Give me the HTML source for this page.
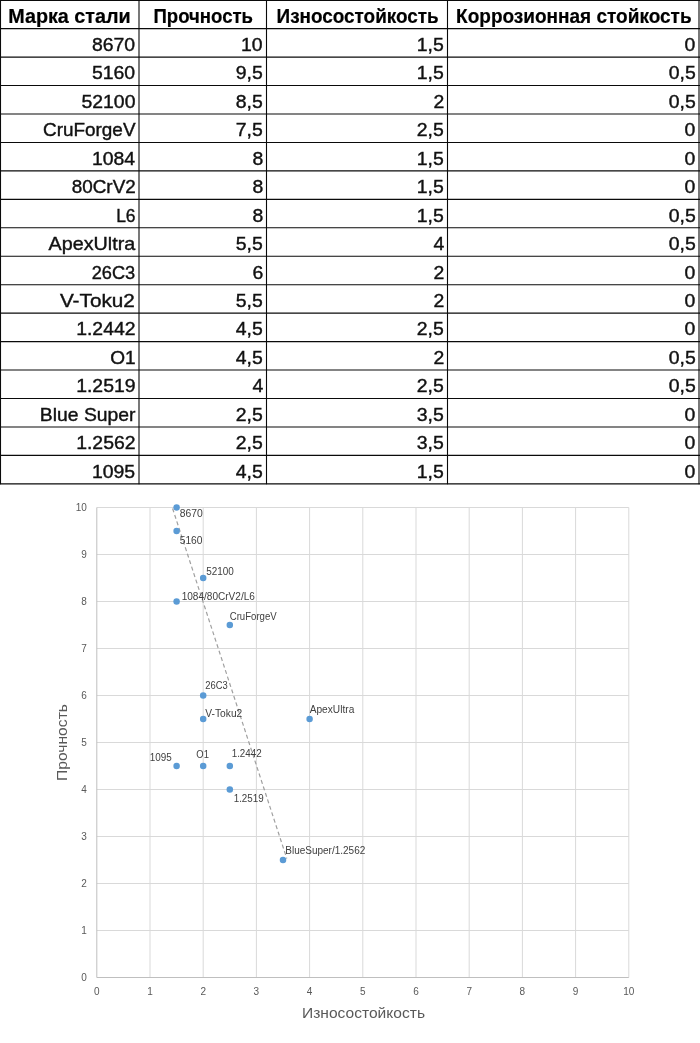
<!DOCTYPE html>
<html lang="ru">
<head>
<meta charset="utf-8">
<title>Марки стали: прочность и износостойкость</title>
<style>
html,body{margin:0;padding:0;background:#fff}
body{position:relative;width:700px;height:1043px;overflow:hidden;font-family:"Liberation Sans",sans-serif;color:#111}
table.steel{position:absolute;left:0;top:0;width:700px;border-collapse:collapse;table-layout:fixed;border-spacing:0}
table.steel th,table.steel td{line-height:28px;padding:0;margin:0;border:0;white-space:nowrap;overflow:visible;vertical-align:top}
table.steel th{font-weight:bold;font-size:19.5px;text-align:center;color:#000;-webkit-text-stroke:0.2px #000}
table.steel td{font-size:18.5px;text-align:right;-webkit-text-stroke:0.4px #111}
table.steel span{display:inline-block;position:relative}
table.steel th span{transform-origin:50% 50%}
table.steel td span{transform-origin:100% 50%}
td.c1{padding-right:3.7px!important}
td.c2{padding-right:4px!important}
td.c3{padding-right:4px!important}
td.c4{padding-right:4.5px!important}
svg{position:absolute;left:0;top:0;overflow:visible}
svg text{font-family:"Liberation Sans",sans-serif}
</style>
</head>
<body>
<table class="steel">
<colgroup><col style="width:139px"><col style="width:128px"><col style="width:181px"><col style="width:252px"></colgroup>
<thead>
<tr style="height:28px"><th><span style="transform:translateY(2.1px) scaleX(1.0133)">Марка стали</span></th><th><span style="transform:translateY(2.1px) scaleX(0.9529)">Прочность</span></th><th><span style="transform:translateY(2.1px) scaleX(0.9695)">Износостойкость</span></th><th><span style="transform:translateY(2.1px) scaleX(0.9744)">Коррозионная стойкость</span></th></tr>
</thead>
<tbody>
<tr style="height:29px"><td class="c1"><span style="transform:translateY(2.90px) scaleX(1.0500)">8670</span></td><td class="c2"><span style="transform:translateY(2.90px) scaleX(1.0500)">10</span></td><td class="c3"><span style="transform:translateY(2.90px) scaleX(1.0500)">1,5</span></td><td class="c4"><span style="transform:translateY(2.90px) scaleX(1.0500)">0</span></td></tr>
<tr style="height:28px"><td class="c1"><span style="transform:translateY(2.35px) scaleX(1.0500)">5160</span></td><td class="c2"><span style="transform:translateY(2.35px) scaleX(1.0500)">9,5</span></td><td class="c3"><span style="transform:translateY(2.35px) scaleX(1.0500)">1,5</span></td><td class="c4"><span style="transform:translateY(2.35px) scaleX(1.0500)">0,5</span></td></tr>
<tr style="height:29px"><td class="c1"><span style="transform:translateY(2.80px) scaleX(1.0500)">52100</span></td><td class="c2"><span style="transform:translateY(2.80px) scaleX(1.0500)">8,5</span></td><td class="c3"><span style="transform:translateY(2.80px) scaleX(1.0500)">2</span></td><td class="c4"><span style="transform:translateY(2.80px) scaleX(1.0500)">0,5</span></td></tr>
<tr style="height:28px"><td class="c1"><span style="transform:translateY(2.25px) scaleX(1.0211)">CruForgeV</span></td><td class="c2"><span style="transform:translateY(2.25px) scaleX(1.0500)">7,5</span></td><td class="c3"><span style="transform:translateY(2.25px) scaleX(1.0500)">2,5</span></td><td class="c4"><span style="transform:translateY(2.25px) scaleX(1.0500)">0</span></td></tr>
<tr style="height:29px"><td class="c1"><span style="transform:translateY(2.70px) scaleX(1.0500)">1084</span></td><td class="c2"><span style="transform:translateY(2.70px) scaleX(1.0500)">8</span></td><td class="c3"><span style="transform:translateY(2.70px) scaleX(1.0500)">1,5</span></td><td class="c4"><span style="transform:translateY(2.70px) scaleX(1.0500)">0</span></td></tr>
<tr style="height:28px"><td class="c1"><span style="transform:translateY(2.15px) scaleX(1.0203)">80CrV2</span></td><td class="c2"><span style="transform:translateY(2.15px) scaleX(1.0500)">8</span></td><td class="c3"><span style="transform:translateY(2.15px) scaleX(1.0500)">1,5</span></td><td class="c4"><span style="transform:translateY(2.15px) scaleX(1.0500)">0</span></td></tr>
<tr style="height:29px"><td class="c1"><span style="transform:translateY(2.60px) scaleX(0.9433)">L6</span></td><td class="c2"><span style="transform:translateY(2.60px) scaleX(1.0500)">8</span></td><td class="c3"><span style="transform:translateY(2.60px) scaleX(1.0500)">1,5</span></td><td class="c4"><span style="transform:translateY(2.60px) scaleX(1.0500)">0,5</span></td></tr>
<tr style="height:28px"><td class="c1"><span style="transform:translateY(2.05px) scaleX(1.0664)">ApexUltra</span></td><td class="c2"><span style="transform:translateY(2.05px) scaleX(1.0500)">5,5</span></td><td class="c3"><span style="transform:translateY(2.05px) scaleX(1.0500)">4</span></td><td class="c4"><span style="transform:translateY(2.05px) scaleX(1.0500)">0,5</span></td></tr>
<tr style="height:28px"><td class="c1"><span style="transform:translateY(2.50px) scaleX(0.9842)">26C3</span></td><td class="c2"><span style="transform:translateY(2.50px) scaleX(1.0500)">6</span></td><td class="c3"><span style="transform:translateY(2.50px) scaleX(1.0500)">2</span></td><td class="c4"><span style="transform:translateY(2.50px) scaleX(1.0500)">0</span></td></tr>
<tr style="height:29px"><td class="c1"><span style="transform:translateY(2.95px) scaleX(1.1209)">V-Toku2</span></td><td class="c2"><span style="transform:translateY(2.95px) scaleX(1.0500)">5,5</span></td><td class="c3"><span style="transform:translateY(2.95px) scaleX(1.0500)">2</span></td><td class="c4"><span style="transform:translateY(2.95px) scaleX(1.0500)">0</span></td></tr>
<tr style="height:28px"><td class="c1"><span style="transform:translateY(2.40px) scaleX(1.0500)">1.2442</span></td><td class="c2"><span style="transform:translateY(2.40px) scaleX(1.0500)">4,5</span></td><td class="c3"><span style="transform:translateY(2.40px) scaleX(1.0500)">2,5</span></td><td class="c4"><span style="transform:translateY(2.40px) scaleX(1.0500)">0</span></td></tr>
<tr style="height:29px"><td class="c1"><span style="transform:translateY(2.85px) scaleX(1.0300)">O1</span></td><td class="c2"><span style="transform:translateY(2.85px) scaleX(1.0500)">4,5</span></td><td class="c3"><span style="transform:translateY(2.85px) scaleX(1.0500)">2</span></td><td class="c4"><span style="transform:translateY(2.85px) scaleX(1.0500)">0,5</span></td></tr>
<tr style="height:28px"><td class="c1"><span style="transform:translateY(2.30px) scaleX(1.0500)">1.2519</span></td><td class="c2"><span style="transform:translateY(2.30px) scaleX(1.0500)">4</span></td><td class="c3"><span style="transform:translateY(2.30px) scaleX(1.0500)">2,5</span></td><td class="c4"><span style="transform:translateY(2.30px) scaleX(1.0500)">0,5</span></td></tr>
<tr style="height:29px"><td class="c1"><span style="transform:translateY(2.75px) scaleX(1.0453)">Blue Super</span></td><td class="c2"><span style="transform:translateY(2.75px) scaleX(1.0500)">2,5</span></td><td class="c3"><span style="transform:translateY(2.75px) scaleX(1.0500)">3,5</span></td><td class="c4"><span style="transform:translateY(2.75px) scaleX(1.0500)">0</span></td></tr>
<tr style="height:28px"><td class="c1"><span style="transform:translateY(2.20px) scaleX(1.0500)">1.2562</span></td><td class="c2"><span style="transform:translateY(2.20px) scaleX(1.0500)">2,5</span></td><td class="c3"><span style="transform:translateY(2.20px) scaleX(1.0500)">3,5</span></td><td class="c4"><span style="transform:translateY(2.20px) scaleX(1.0500)">0</span></td></tr>
<tr style="height:29px"><td class="c1"><span style="transform:translateY(2.65px) scaleX(1.0500)">1095</span></td><td class="c2"><span style="transform:translateY(2.65px) scaleX(1.0500)">4,5</span></td><td class="c3"><span style="transform:translateY(2.65px) scaleX(1.0500)">1,5</span></td><td class="c4"><span style="transform:translateY(2.65px) scaleX(1.0500)">0</span></td></tr>
</tbody>
</table>
<svg class="rules" width="700" height="490" viewBox="0 0 700 490" aria-hidden="true">
<g stroke="#0a0a0a" stroke-width="1.1" fill="none">
<line x1="0" y1="0.50" x2="700" y2="0.50"/><line x1="0" y1="28.65" x2="700" y2="28.65"/><line x1="0" y1="57.10" x2="700" y2="57.10"/><line x1="0" y1="85.55" x2="700" y2="85.55"/><line x1="0" y1="114.00" x2="700" y2="114.00"/><line x1="0" y1="142.45" x2="700" y2="142.45"/><line x1="0" y1="170.90" x2="700" y2="170.90"/><line x1="0" y1="199.35" x2="700" y2="199.35"/><line x1="0" y1="227.80" x2="700" y2="227.80"/><line x1="0" y1="256.25" x2="700" y2="256.25"/><line x1="0" y1="284.70" x2="700" y2="284.70"/><line x1="0" y1="313.15" x2="700" y2="313.15"/><line x1="0" y1="341.60" x2="700" y2="341.60"/><line x1="0" y1="370.05" x2="700" y2="370.05"/><line x1="0" y1="398.50" x2="700" y2="398.50"/><line x1="0" y1="426.95" x2="700" y2="426.95"/><line x1="0" y1="455.40" x2="700" y2="455.40"/><line x1="0" y1="483.85" x2="700" y2="483.85"/>
<line x1="0.5" y1="0" x2="0.5" y2="484.25"/><line x1="139.0" y1="0" x2="139.0" y2="484.25"/><line x1="266.5" y1="0" x2="266.5" y2="484.25"/><line x1="447.5" y1="0" x2="447.5" y2="484.25"/><line x1="699.0" y1="0" x2="699.0" y2="484.25"/>
</g>
</svg>
<svg class="chart" width="700" height="1043" viewBox="0 0 700 1043">
<g stroke="#d9d9d9" stroke-width="1" fill="none">
<line x1="150.00" y1="507.50" x2="150.00" y2="977.50"/><line x1="203.20" y1="507.50" x2="203.20" y2="977.50"/><line x1="256.40" y1="507.50" x2="256.40" y2="977.50"/><line x1="309.60" y1="507.50" x2="309.60" y2="977.50"/><line x1="362.80" y1="507.50" x2="362.80" y2="977.50"/><line x1="416.00" y1="507.50" x2="416.00" y2="977.50"/><line x1="469.20" y1="507.50" x2="469.20" y2="977.50"/><line x1="522.40" y1="507.50" x2="522.40" y2="977.50"/><line x1="575.60" y1="507.50" x2="575.60" y2="977.50"/><line x1="628.80" y1="507.50" x2="628.80" y2="977.50"/>
<line x1="96.80" y1="930.50" x2="628.80" y2="930.50"/><line x1="96.80" y1="883.50" x2="628.80" y2="883.50"/><line x1="96.80" y1="836.50" x2="628.80" y2="836.50"/><line x1="96.80" y1="789.50" x2="628.80" y2="789.50"/><line x1="96.80" y1="742.50" x2="628.80" y2="742.50"/><line x1="96.80" y1="695.50" x2="628.80" y2="695.50"/><line x1="96.80" y1="648.50" x2="628.80" y2="648.50"/><line x1="96.80" y1="601.50" x2="628.80" y2="601.50"/><line x1="96.80" y1="554.50" x2="628.80" y2="554.50"/><line x1="96.80" y1="507.50" x2="628.80" y2="507.50"/>
</g>
<g stroke="#bfbfbf" stroke-width="1" fill="none"><line x1="96.80" y1="507.50" x2="96.80" y2="977.50"/><line x1="96.80" y1="977.50" x2="628.80" y2="977.50"/></g>
<line x1="172.6" y1="508.5" x2="286.8" y2="858.5" stroke="#a0a0a0" stroke-width="1.2" stroke-dasharray="4 2.8" fill="none"/>
<g font-size="10.0" fill="#595959">
<text x="86.8" y="981.20" text-anchor="end">0</text><text x="86.8" y="934.20" text-anchor="end">1</text><text x="86.8" y="887.20" text-anchor="end">2</text><text x="86.8" y="840.20" text-anchor="end">3</text><text x="86.8" y="793.20" text-anchor="end">4</text><text x="86.8" y="746.20" text-anchor="end">5</text><text x="86.8" y="699.20" text-anchor="end">6</text><text x="86.8" y="652.20" text-anchor="end">7</text><text x="86.8" y="605.20" text-anchor="end">8</text><text x="86.8" y="558.20" text-anchor="end">9</text><text x="86.8" y="511.20" text-anchor="end">10</text>
<text x="96.80" y="994.5" text-anchor="middle">0</text><text x="150.00" y="994.5" text-anchor="middle">1</text><text x="203.20" y="994.5" text-anchor="middle">2</text><text x="256.40" y="994.5" text-anchor="middle">3</text><text x="309.60" y="994.5" text-anchor="middle">4</text><text x="362.80" y="994.5" text-anchor="middle">5</text><text x="416.00" y="994.5" text-anchor="middle">6</text><text x="469.20" y="994.5" text-anchor="middle">7</text><text x="522.40" y="994.5" text-anchor="middle">8</text><text x="575.60" y="994.5" text-anchor="middle">9</text><text x="628.80" y="994.5" text-anchor="middle">10</text>
</g>
<text x="302" y="1018.3" font-size="15.5" fill="#595959" textLength="123" lengthAdjust="spacingAndGlyphs">Износостойкость</text>
<text transform="translate(67.0,781.0) rotate(-90)" font-size="15.5" fill="#595959" textLength="77" lengthAdjust="spacingAndGlyphs">Прочность</text>
<g fill="#5b9bd5"><circle cx="176.60" cy="507.50" r="3.25"/><circle cx="176.60" cy="531.00" r="3.25"/><circle cx="203.20" cy="578.00" r="3.25"/><circle cx="176.60" cy="601.50" r="3.25"/><circle cx="229.80" cy="625.00" r="3.25"/><circle cx="203.20" cy="695.50" r="3.25"/><circle cx="203.20" cy="719.00" r="3.25"/><circle cx="309.60" cy="719.00" r="3.25"/><circle cx="176.60" cy="766.00" r="3.25"/><circle cx="203.20" cy="766.00" r="3.25"/><circle cx="229.80" cy="766.00" r="3.25"/><circle cx="229.80" cy="789.50" r="3.25"/><circle cx="283.00" cy="860.00" r="3.25"/></g>
<g font-size="10.0" fill="#404040">
<text x="179.70" y="517.20" textLength="23.00" lengthAdjust="spacingAndGlyphs">8670</text>
<text x="179.70" y="543.60" textLength="22.80" lengthAdjust="spacingAndGlyphs">5160</text>
<text x="206.30" y="575.00" textLength="27.60" lengthAdjust="spacingAndGlyphs">52100</text>
<text x="181.70" y="600.00" textLength="73.20" lengthAdjust="spacingAndGlyphs">1084/80CrV2/L6</text>
<text x="229.70" y="620.00" textLength="47.00" lengthAdjust="spacingAndGlyphs">CruForgeV</text>
<text x="205.30" y="689.00" textLength="22.40" lengthAdjust="spacingAndGlyphs">26C3</text>
<text x="205.30" y="717.00" textLength="37.00" lengthAdjust="spacingAndGlyphs">V-Toku2</text>
<text x="309.70" y="713.40" textLength="44.60" lengthAdjust="spacingAndGlyphs">ApexUltra</text>
<text x="149.70" y="761.40" textLength="22.00" lengthAdjust="spacingAndGlyphs">1095</text>
<text x="196.30" y="757.60" textLength="12.60" lengthAdjust="spacingAndGlyphs">O1</text>
<text x="231.70" y="757.00" textLength="30.00" lengthAdjust="spacingAndGlyphs">1.2442</text>
<text x="233.70" y="801.60" textLength="30.00" lengthAdjust="spacingAndGlyphs">1.2519</text>
<text x="285.30" y="853.60" textLength="80.00" lengthAdjust="spacingAndGlyphs">BlueSuper/1.2562</text>
</g>
</svg>
</body>
</html>
